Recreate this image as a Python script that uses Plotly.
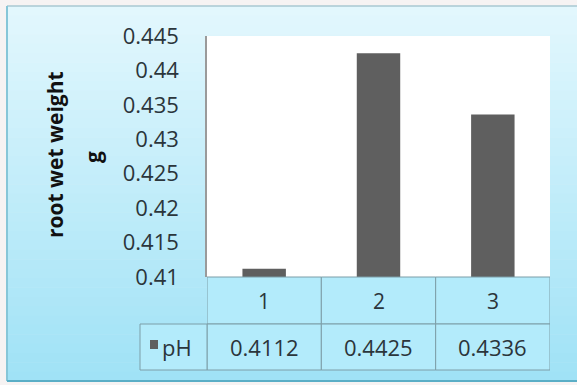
import plotly.graph_objects as go

categories = ["1", "2", "3"]
series_name = "pH"
values = [0.4112, 0.4425, 0.4336]
value_labels = ["0.4112", "0.4425", "0.4336"]
y_ticks = [0.41, 0.415, 0.42, 0.425, 0.43, 0.435, 0.44, 0.445]
y_ticktext = ["0.41", "0.415", "0.42", "0.425", "0.43", "0.435", "0.44", "0.445"]
y_title_main = "root wet weight"
y_title_unit = "g"

W, H = 577, 385
L, R, T, B = 207, 550, 36, 277
PW, PH = R - L, B - T


def fx(p):
    return (p - L) / PW


def fy(p):
    return (B - p) / PH


def lerp(c1, c2, t):
    return "rgb(%d,%d,%d)" % tuple(round(a + (b - a) * t) for a, b in zip(c1, c2))


BAR = "#5f5f5f"
CELL = "#b3ebfb"
BORDER = "#7d9ea8"
TXT = "#2b353b"

shapes = []
# outer panel gradient
top_c = (226, 247, 253)
bot_c = (160, 226, 246)
n = 40
y0p, y1p = 6, 381
for i in range(n):
    a = y0p + (y1p - y0p) * i / n
    b = y0p + (y1p - y0p) * (i + 1) / n + 0.5
    shapes.append(dict(type="rect", xref="paper", yref="paper", x0=fx(7), x1=fx(577),
                       y0=fy(b), y1=fy(a), fillcolor=lerp(top_c, bot_c, i / (n - 1)),
                       line=dict(width=0), layer="below"))
# panel borders
shapes.append(dict(type="line", xref="paper", yref="paper", x0=fx(7), x1=fx(577), y0=fy(6), y1=fy(6),
                   line=dict(color="#a9c9d2", width=1.5), layer="below"))
shapes.append(dict(type="line", xref="paper", yref="paper", x0=fx(7), x1=fx(7), y0=fy(6), y1=fy(381),
                   line=dict(color="#86c6d8", width=2), layer="below"))
shapes.append(dict(type="line", xref="paper", yref="paper", x0=fx(7), x1=fx(577), y0=fy(381), y1=fy(381),
                   line=dict(color="#5aaec6", width=2), layer="below"))
# plot area
shapes.append(dict(type="rect", xref="paper", yref="paper", x0=0, x1=1, y0=0, y1=1,
                   fillcolor="white", line=dict(width=0), layer="below"))

# data table
row1 = (277, 324)
row2 = (324, 370)
for i in range(len(categories)):
    for (ta, tb) in (row1, row2):
        shapes.append(dict(type="rect", xref="x", yref="paper", x0=i - 0.5, x1=i + 0.5,
                           y0=fy(tb), y1=fy(ta), fillcolor=CELL,
                           line=dict(color=BORDER, width=1), layer="above"))
shapes.append(dict(type="rect", xref="paper", yref="paper", x0=fx(140), x1=0,
                   y0=fy(row2[1]), y1=fy(row2[0]), fillcolor=CELL,
                   line=dict(color=BORDER, width=1), layer="above"))
# legend key
shapes.append(dict(type="rect", xref="paper", yref="paper", x0=fx(150), x1=fx(158),
                   y0=fy(349), y1=fy(340), fillcolor=BAR, line=dict(width=0), layer="above"))

annotations = []
FONT = "Open Sans"
for i, (c, v) in enumerate(zip(categories, value_labels)):
    annotations.append(dict(x=i, xref="x", y=fy((row1[0] + row1[1]) / 2), yref="paper",
                            xanchor="center", yanchor="middle",
                            text=c, showarrow=False, font=dict(family=FONT, size=21, color=TXT)))
    annotations.append(dict(x=i, xref="x", y=fy((row2[0] + row2[1]) / 2), yref="paper",
                            xanchor="center", yanchor="middle",
                            text=v, showarrow=False, font=dict(family=FONT, size=22, color=TXT)))
annotations.append(dict(x=fx(160), xref="paper", xanchor="left", yanchor="middle",
                        y=fy((row2[0] + row2[1]) / 2),
                        yref="paper", text=series_name, showarrow=False,
                        font=dict(family=FONT, size=22, color=TXT)))
annotations.append(dict(x=fx(55), xref="paper", y=fy(155), yref="paper", text=y_title_main,
                        xanchor="center", yanchor="middle",
                        textangle=-90, showarrow=False,
                        font=dict(family=FONT, size=21, color="#111111", weight="bold")))
annotations.append(dict(x=fx(93), xref="paper", y=fy(157), yref="paper", text=y_title_unit,
                        xanchor="center", yanchor="middle",
                        textangle=-90, showarrow=False,
                        font=dict(family=FONT, size=21, color="#111111", weight="bold")))

fig = go.Figure()
fig.add_trace(go.Bar(x=categories, y=values, name=series_name, marker=dict(color=BAR, line=dict(width=0)),
                     width=0.38, showlegend=False))

fig.update_layout(
    width=W, height=H, autosize=False,
    margin=dict(l=L, r=W - R, t=T, b=H - B, pad=0),
    paper_bgcolor="#f6f3f3",
    plot_bgcolor="rgba(0,0,0,0)",
    shapes=shapes,
    annotations=annotations,
    xaxis=dict(type="category", range=[-0.5, len(categories) - 0.5], showticklabels=False,
               showgrid=False, zeroline=False, showline=False, ticks=""),
    yaxis=dict(range=[0.41, 0.445], tickvals=y_ticks, ticktext=y_ticktext, showgrid=False,
               zeroline=False, showline=True, linecolor="#9a9a9a", linewidth=1.5,
               ticks="", ticklabelstandoff=22,
               tickfont=dict(family=FONT, size=22, color=TXT)),
)

fig.write_html("out.html", config={"displayModeBar": False},
               post_script="document.body.style.margin='0';")
